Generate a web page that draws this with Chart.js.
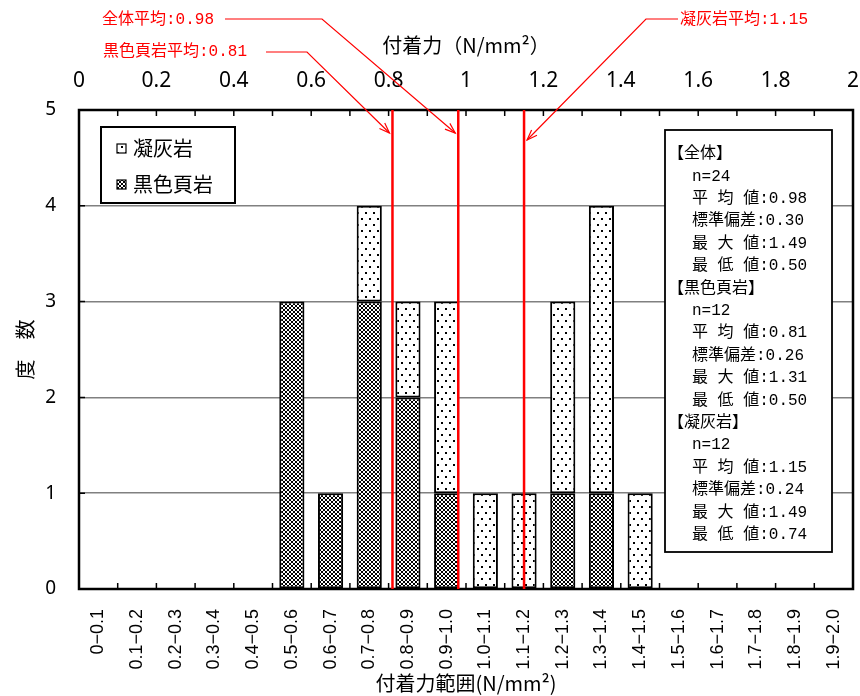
<!DOCTYPE html>
<html>
<head>
<meta charset="utf-8">
<script src="https://cdn.jsdelivr.net/npm/chart.js@4"></script>
<style>
  body { margin: 0; background: #fff; }
  canvas { display: block; }
</style>
</head>
<body>
<canvas id="chart" width="860" height="696"></canvas>
<script>
const binLabels = [
  "0−0.1", "0.1−0.2", "0.2−0.3", "0.3−0.4", "0.4−0.5",
  "0.5−0.6", "0.6−0.7", "0.7−0.8", "0.8−0.9", "0.9−1.0",
  "1.0−1.1", "1.1−1.2", "1.2−1.3", "1.3−1.4", "1.4−1.5",
  "1.5−1.6", "1.6−1.7", "1.7−1.8", "1.8−1.9", "1.9−2.0",
];
const shaleCounts = [0, 0, 0, 0, 0, 3, 1, 3, 2, 1, 0, 0, 1, 1, 0, 0, 0, 0, 0, 0];
const tuffCounts  = [0, 0, 0, 0, 0, 0, 0, 1, 1, 2, 1, 1, 2, 3, 1, 0, 0, 0, 0, 0];
const meanValues = [0.98, 0.81, 1.15];
const meanLabels = ["全体平均:0.98", "黒色頁岩平均:0.81", "凝灰岩平均:1.15"];
const statsLines = [
  "【全体】", " n=24", " 平 均 値:0.98", " 標準偏差:0.30", " 最 大 値:1.49", " 最 低 値:0.50",
  "【黒色頁岩】", " n=12", " 平 均 値:0.81", " 標準偏差:0.26", " 最 大 値:1.31", " 最 低 値:0.50",
  "【凝灰岩】", " n=12", " 平 均 値:1.15", " 標準偏差:0.24", " 最 大 値:1.49", " 最 低 値:0.74",
];

const CJK = '"Noto Sans CJK JP", "Noto Sans", sans-serif';
const MONO = '"Liberation Mono", "Noto Sans CJK JP", monospace';

// fill patterns for the two rock types
function makePattern(w, h, draw) {
  const c = document.createElement("canvas");
  c.width = w; c.height = h;
  const g = c.getContext("2d");
  g.fillStyle = "#fff";
  g.fillRect(0, 0, w, h);
  g.fillStyle = "#000";
  draw(g);
  return g.createPattern(c, "repeat");
}
const tuffFill = makePattern(8, 12, (g) => {
  g.fillRect(1, 2, 2, 2);
  g.fillRect(5, 8, 2, 2);
});
const shaleFill = makePattern(4, 4, (g) => {
  const rows = [".XX.", "X..X", "X..X", ".XX."];
  rows.forEach((r, y) => [...r].forEach((ch, x) => { if (ch === "X") g.fillRect(x, y, 1, 1); }));
});

function arrow(ctx, pts) {
  ctx.beginPath();
  ctx.moveTo(pts[0][0], pts[0][1]);
  pts.slice(1).forEach((p) => ctx.lineTo(p[0], p[1]));
  ctx.stroke();
  const [ax, ay] = pts[pts.length - 2];
  const [bx, by] = pts[pts.length - 1];
  const ang = Math.atan2(by - ay, bx - ax);
  ctx.beginPath();
  ctx.moveTo(bx - 11 * Math.cos(ang - 0.35), by - 11 * Math.sin(ang - 0.35));
  ctx.lineTo(bx, by);
  ctx.lineTo(bx - 11 * Math.cos(ang + 0.35), by - 11 * Math.sin(ang + 0.35));
  ctx.stroke();
}

// keep the plot area fixed: no extra side padding for edge labels
function noSidePad(s) {
  s.paddingLeft = 0;
  s.paddingRight = 0;
}

const decor = {
  id: "decor",
  afterDatasetsDraw(chart) {
    const { ctx, chartArea: a, scales } = chart;
    const x2 = scales.x2, y = scales.y, x = scales.x;
    ctx.save();
    // plot frame
    ctx.strokeStyle = "#000";
    ctx.lineWidth = 2.5;
    ctx.strokeRect(a.left, a.top, a.right - a.left, a.bottom - a.top);
    // inner tick marks
    ctx.lineWidth = 1.5;
    ctx.beginPath();
    for (let i = 1; i < binLabels.length; i++) {
      const px = (x.getPixelForValue(i - 1) + x.getPixelForValue(i)) / 2;
      ctx.moveTo(px, a.bottom); ctx.lineTo(px, a.bottom - 6);
      const tx = x2.getPixelForValue(i / 10);
      ctx.moveTo(tx, a.top); ctx.lineTo(tx, a.top + 6);
    }
    for (let v = 1; v < 5; v++) {
      const py = y.getPixelForValue(v);
      ctx.moveTo(a.left, py); ctx.lineTo(a.left + 6, py);
    }
    ctx.stroke();
    // mean lines
    ctx.strokeStyle = "#ff0000";
    ctx.lineWidth = 2.5;
    meanValues.forEach((m) => {
      const px = x2.getPixelForValue(m);
      ctx.beginPath();
      ctx.moveTo(px, a.top); ctx.lineTo(px, a.bottom);
      ctx.stroke();
    });
    ctx.restore();
  },
  afterDraw(chart) {
    const { ctx, scales } = chart;
    const x2 = scales.x2;
    ctx.save();
    // red callouts
    const callouts = [
      { tx: 102, ty: 20, from: [225, 19], bend: [322, 19], tipY: 133, dx: -3 },
      { tx: 103, ty: 52, from: [266, 52], bend: [307, 52], tipY: 133, dx: -3 },
      { tx: 680, ty: 20, from: [678, 19], bend: [646, 19], tipY: 140, dx: 3 },
    ];
    ctx.fillStyle = "#ff0000";
    ctx.strokeStyle = "#ff0000";
    ctx.lineWidth = 1.2;
    ctx.font = "16px " + MONO;
    ctx.textBaseline = "middle";
    ctx.textAlign = "left";
    callouts.forEach((c, i) => {
      ctx.fillText(meanLabels[i], c.tx, c.ty);
      const tip = [x2.getPixelForValue(meanValues[i]) + c.dx, c.tipY];
      arrow(ctx, [c.from, c.bend, tip]);
    });

    // legend box
    ctx.fillStyle = "#fff";
    ctx.fillRect(101, 127, 134, 76);
    ctx.strokeStyle = "#000";
    ctx.lineWidth = 2;
    ctx.strokeRect(101, 127, 134, 76);
    const legend = [
      { label: "凝灰岩", fill: tuffFill, y: 148 },
      { label: "黒色頁岩", fill: shaleFill, y: 184 },
    ];
    ctx.font = "20px " + CJK;
    legend.forEach((l) => {
      ctx.fillStyle = l.fill;
      ctx.fillRect(117, l.y - 4, 9, 9);
      ctx.lineWidth = 1.2;
      ctx.strokeRect(117, l.y - 4, 9, 9);
      ctx.fillStyle = "#000";
      ctx.fillText(l.label, 133, l.y);
    });

    // stats box
    ctx.fillStyle = "#fff";
    ctx.fillRect(665, 130, 167, 422);
    ctx.lineWidth = 1.8;
    ctx.strokeRect(665, 130, 167, 422);
    ctx.fillStyle = "#000";
    ctx.font = "16px " + MONO;
    statsLines.forEach((s, i) => {
      const indent = s.startsWith(" ") ? 692 : 668;
      ctx.fillText(s.trim(), indent, 154 + i * 22.4);
    });
    ctx.restore();
  },
};

new Chart(document.getElementById("chart"), {
  type: "bar",
  data: {
    labels: binLabels,
    datasets: [
      {
        label: "黒色頁岩",
        data: shaleCounts.map((v) => v || null),
        backgroundColor: shaleFill,
        borderColor: "#000",
        borderWidth: 2,
        borderSkipped: false,
        xAxisID: "x",
      },
      {
        label: "凝灰岩",
        data: tuffCounts.map((v) => v || null),
        backgroundColor: tuffFill,
        borderColor: "#000",
        borderWidth: 2,
        borderSkipped: false,
        xAxisID: "x",
      },
    ],
  },
  options: {
    responsive: false,
    animation: false,
    layout: { padding: { right: 7 } },
    barPercentage: 0.65,
    categoryPercentage: 1,
    plugins: { legend: { display: false }, tooltip: { enabled: false } },
    scales: {
      x: {
        position: "bottom",
        stacked: true,
        grid: { display: false },
        border: { display: false },
        ticks: {
          autoSkip: false, minRotation: 90, maxRotation: 90, padding: 12,
          color: "#000", font: { family: '"Liberation Sans", Arial, sans-serif', size: 18 },
        },
        title: {
          display: true, text: "付着力範囲(N/mm²)", color: "#000",
          font: { family: CJK, size: 20 }, padding: { top: 0, bottom: 1 },
        },
        afterFit: (s) => { s.height = 107; noSidePad(s); },
      },
      x2: {
        type: "linear",
        position: "top",
        min: 0, max: 2,
        offset: false,
        grid: { display: false, offset: false },
        border: { display: false },
        ticks: {
          stepSize: 0.2, padding: 8, color: "#000",
          font: { family: '"Liberation Sans Narrow", "Noto Sans", sans-serif', size: 21 },
          callback: (v) => String(Math.round(v * 10) / 10),
        },
        title: {
          display: true, text: "付着力（N/mm²）", color: "#000",
          font: { family: CJK, size: 20 }, padding: { top: 33, bottom: 0 },
        },
        afterFit: (s) => { s.height = 110; noSidePad(s); },
      },
      y: {
        stacked: true,
        min: 0, max: 5,
        grid: { color: "#808080", lineWidth: 1.5, drawTicks: false },
        border: { display: false },
        ticks: {
          stepSize: 1, padding: 23, color: "#000",
          font: { family: '"Noto Sans", sans-serif', size: 19 },
        },
        title: {
          display: true, text: "度　数", color: "#000",
          font: { family: CJK, size: 20 }, padding: { top: 13, bottom: 0 },
        },
        afterFit: (s) => { s.width = 79; },
      },
    },
  },
  plugins: [decor],
});
</script>
</body>
</html>
